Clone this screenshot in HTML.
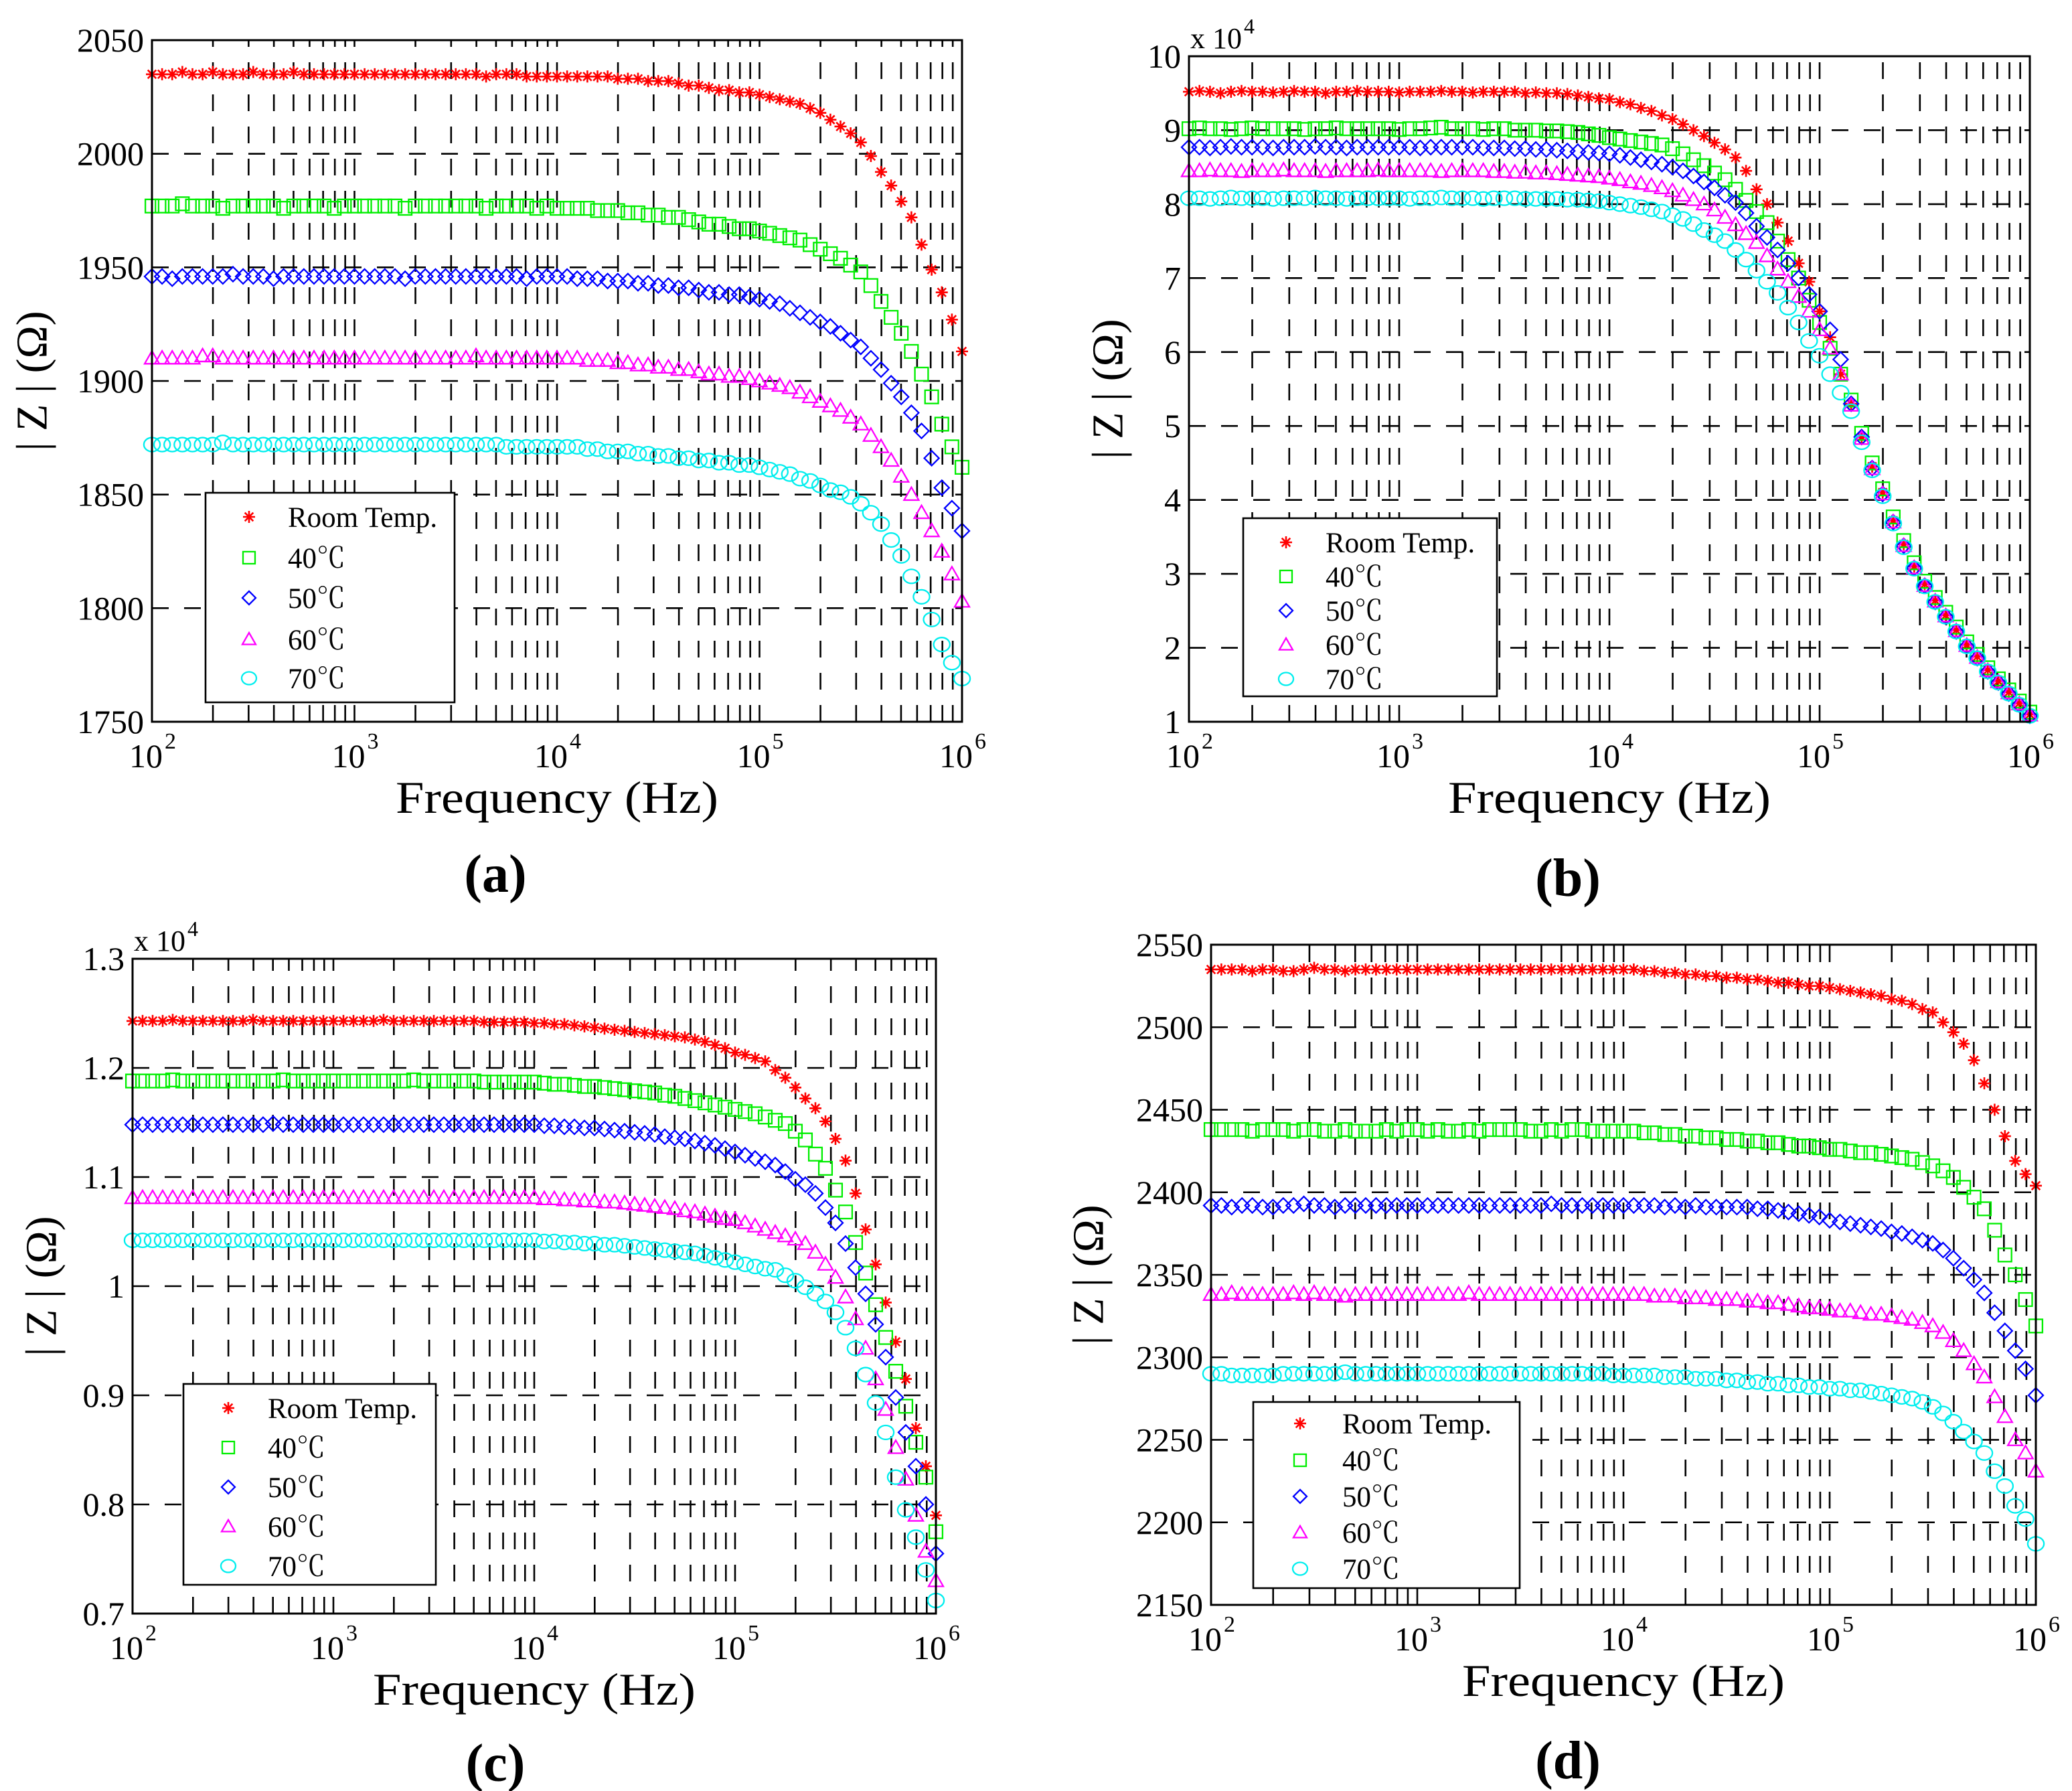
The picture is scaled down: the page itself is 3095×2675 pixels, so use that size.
<!DOCTYPE html>
<html><head><meta charset="utf-8"><title>|Z| vs frequency at several temperatures</title>
<style>
html,body{margin:0;padding:0;background:#fff;}
svg{display:block;}
text{font-family:"Liberation Serif","Noto Serif CJK SC","Noto Sans CJK SC",serif;fill:#000;}
</style></head>
<body>
<svg id="fig" width="3095" height="2675" viewBox="0 0 3095 2675" xmlns="http://www.w3.org/2000/svg">
<rect x="0" y="0" width="3095" height="2675" fill="#fff"/>
</svg>
<script>
// shared log10(frequency) categories
const EXPS=[2,2.05,2.1,2.15,2.2,2.25,2.3,2.35,2.4,2.45,2.5,2.55,2.6,2.65,2.7,2.75,2.8,2.85,2.9,2.95,3,3.05,3.1,3.15,3.2,3.25,3.3,3.35,3.4,3.45,3.5,3.55,3.6,3.65,3.7,3.75,3.8,3.85,3.9,3.95,4,4.05,4.1,4.15,4.2,4.25,4.3,4.35,4.4,4.45,4.5,4.55,4.6,4.65,4.7,4.75,4.8,4.85,4.9,4.95,5,5.05,5.1,5.15,5.2,5.25,5.3,5.35,5.4,5.45,5.5,5.55,5.6,5.65,5.7,5.75,5.8,5.85,5.9,5.95,6];
const XTICK_EXPS=[2,3,4,5,6];
const LEGEND_LABELS=['Room Temp.','40\u2103','50\u2103','60\u2103','70\u2103'];

// panel (a)
const A_YTICKS=[1750,1800,1850,1900,1950,2000,2050];
const A_RT=[2035,2035,2035,2036,2035,2035,2036,2035,2035,2035,2036,2035,2035,2035,2036,2035,2035,2035,2035,2035,2035,2035,2035,2035,2035,2035,2035,2035,2035,2035,2035,2035,2035,2034,2035,2035,2035,2034,2034,2034,2034,
2034,2034,2034,2034,2034,2033,2033,2033,2032,2032,2032,2031,2030,2030,2029,2028,2028,2027,2027,2026,2025,2024,2023,2022,2020,2018,2015,2012,2009,2005,1999,1992,1986,1979,1972,1960,1949,1939,1927,1913];
const A_40=[1977,1977,1977,1978,1977,1977,1977,1976,1977,1977,1977,1977,1977,1976,1977,1977,1977,1977,1976,1977,1977,1977,1977,1977,1977,1976,1977,1977,1977,1977,1977,1977,1977,1976,1977,1977,1977,1977,1976,1977,1976,
1976,1976,1976,1975,1975,1975,1974,1974,1973,1973,1972,1972,1971,1970,1969,1969,1968,1967,1967,1966,1965,1964,1963,1962,1960,1958,1956,1954,1951,1948,1942,1935,1928,1921,1913,1903,1893,1881,1871,1862];
const A_50=[1946,1946,1945,1946,1946,1946,1946,1946,1947,1946,1946,1946,1945,1946,1946,1946,1946,1946,1946,1946,1946,1946,1946,1946,1946,1945,1946,1946,1946,1946,1946,1946,1946,1946,1946,1946,1946,1945,1946,1946,1946,
1946,1945,1945,1945,1944,1944,1944,1943,1943,1942,1942,1941,1941,1940,1939,1939,1938,1938,1937,1936,1935,1934,1932,1930,1928,1926,1924,1921,1918,1915,1910,1905,1899,1893,1886,1878,1866,1853,1844,1834];
const A_60=[1910,1910,1910,1910,1910,1911,1911,1910,1910,1910,1910,1910,1910,1910,1910,1910,1910,1910,1910,1910,1910,1910,1910,1910,1910,1910,1910,1910,1910,1910,1910,1910,1911,1910,1910,1910,1910,1910,1910,1910,1910,
1910,1910,1909,1909,1909,1908,1908,1907,1907,1906,1906,1905,1905,1904,1903,1903,1902,1902,1901,1900,1899,1898,1897,1895,1893,1891,1889,1887,1884,1881,1876,1871,1865,1858,1850,1842,1834,1825,1815,1803];
const A_70=[1872,1872,1872,1872,1872,1872,1872,1873,1872,1872,1872,1872,1872,1872,1872,1872,1872,1872,1872,1872,1872,1872,1872,1872,1872,1872,1872,1872,1872,1872,1872,1872,1872,1872,1872,1871,1871,1871,1871,1871,1871,
1871,1871,1870,1870,1869,1869,1869,1868,1868,1867,1867,1866,1866,1865,1865,1864,1864,1863,1863,1862,1861,1860,1859,1857,1856,1854,1852,1851,1849,1846,1842,1837,1830,1823,1814,1805,1795,1784,1776,1769];

// panel (b)  (values in units of 10^4 ohm)
const B_YTICKS=[1,2,3,4,5,6,7,8,9,10];
const B_RT=[9.52,9.53,9.52,9.5,9.52,9.53,9.52,9.52,9.51,9.52,9.53,9.52,9.52,9.5,9.52,9.52,9.53,9.52,9.52,9.52,9.51,9.52,9.52,9.52,9.53,9.52,9.52,9.51,9.52,9.52,9.52,9.52,9.5,9.51,9.5,9.5,9.49,
9.47,9.45,9.43,9.42,9.38,9.35,9.3,9.26,9.2,9.15,9.08,9.0,8.92,8.83,8.74,8.63,8.45,8.2,8.0,7.75,7.5,7.2,6.95,6.55,6.2,5.7,
5.3,4.85,4.45,4.1,3.72,3.4,3.1,2.86,2.64,2.44,2.24,2.04,1.88,1.7,1.55,1.4,1.25,1.1];
const B_40=[9.02,9.03,9.02,9.02,9.01,9.02,9.03,9.02,9.02,9.02,9.02,9.01,9.02,9.02,9.03,9.02,9.02,9.02,9.02,9.02,9.01,9.02,9.02,9.03,9.04,9.02,9.02,9.02,9.01,9.02,9.02,9.0,9.0,9.0,8.99,8.99,8.98,
8.97,8.95,8.93,8.9,8.88,8.86,8.84,8.82,8.8,8.75,8.68,8.6,8.52,8.42,8.33,8.2,8.05,7.9,7.75,7.5,7.25,7.0,6.7,6.4,6.05,5.7,
5.35,4.9,4.5,4.15,3.77,3.45,3.15,2.9,2.68,2.48,2.28,2.08,1.91,1.73,1.58,1.43,1.28,1.13];
const B_50=[8.77,8.77,8.76,8.77,8.78,8.77,8.77,8.77,8.76,8.77,8.77,8.77,8.78,8.77,8.77,8.76,8.77,8.77,8.77,8.77,8.77,8.77,8.76,8.77,8.77,8.77,8.77,8.77,8.76,8.76,8.76,8.75,8.75,8.74,8.74,8.73,8.72,
8.71,8.7,8.69,8.68,8.66,8.63,8.6,8.57,8.54,8.5,8.45,8.38,8.3,8.22,8.12,8.02,7.88,7.7,7.55,7.38,7.2,7.0,6.78,6.55,6.3,5.9,
5.3,4.85,4.43,4.08,3.7,3.38,3.08,2.84,2.62,2.42,2.22,2.02,1.86,1.68,1.53,1.38,1.23,1.08];
const B_60=[8.45,8.45,8.46,8.45,8.45,8.44,8.45,8.45,8.45,8.46,8.45,8.45,8.45,8.44,8.45,8.45,8.45,8.45,8.46,8.45,8.45,8.45,8.45,8.45,8.44,8.45,8.45,8.45,8.45,8.44,8.44,8.43,8.43,8.42,8.42,8.41,8.4,
8.39,8.38,8.37,8.35,8.33,8.3,8.28,8.25,8.22,8.18,8.12,8.06,8.0,7.92,7.82,7.72,7.6,7.48,7.3,7.12,6.95,6.75,6.55,6.3,6.05,5.7,
5.28,4.83,4.42,4.08,3.7,3.38,3.08,2.84,2.63,2.43,2.23,2.03,1.87,1.69,1.54,1.39,1.24,1.09];
const B_70=[8.08,8.08,8.07,8.08,8.09,8.08,8.08,8.08,8.07,8.08,8.08,8.08,8.09,8.08,8.08,8.07,8.08,8.08,8.08,8.08,8.08,8.07,8.08,8.08,8.09,8.08,8.08,8.08,8.07,8.08,8.08,8.08,8.07,8.07,8.07,8.07,8.06,
8.06,8.05,8.04,8.02,8.0,7.98,7.96,7.93,7.9,7.85,7.8,7.73,7.65,7.58,7.5,7.38,7.25,7.1,6.95,6.8,6.6,6.4,6.15,5.95,5.7,5.45,
5.2,4.78,4.4,4.05,3.68,3.36,3.07,2.83,2.62,2.42,2.22,2.02,1.86,1.68,1.53,1.38,1.23,1.08];

// panel (c)  (values in units of 10^4 ohm)
const C_YTICKS=[0.7,0.8,0.9,1,1.1,1.2,1.3];
const C_YLABELS=['0.7','0.8','0.9','1','1.1','1.2','1.3'];
const C_RT=[1.243,1.243,1.243,1.243,1.244,1.243,1.243,1.243,1.243,1.243,1.243,1.243,1.244,1.243,1.243,1.243,1.243,1.243,1.243,1.243,1.243,1.243,1.243,1.243,1.243,1.244,1.243,1.243,1.243,1.243,1.243,1.243,1.243,1.243,1.243,1.242,1.242,1.242,1.242,1.242,1.241,
1.241,1.240,1.240,1.239,1.238,1.237,1.236,1.235,1.234,1.233,1.232,1.231,1.230,1.229,1.228,1.226,1.224,1.221,1.218,
1.214,1.212,1.209,1.206,1.198,1.191,1.182,1.172,1.163,1.151,1.135,1.115,1.085,1.052,1.020,0.985,0.949,0.915,0.870,0.835,0.790];
const C_40=[1.188,1.188,1.188,1.188,1.189,1.188,1.188,1.188,1.188,1.188,1.188,1.188,1.188,1.188,1.188,1.189,1.188,1.188,1.188,1.188,1.188,1.188,1.188,1.188,1.188,1.188,1.188,1.188,1.189,1.188,1.188,1.188,1.188,1.188,1.188,1.187,1.187,1.187,1.187,1.187,1.187,
1.186,1.185,1.185,1.184,1.183,1.183,1.182,1.181,1.180,1.179,1.178,1.177,1.175,1.174,1.172,1.170,1.168,1.166,1.164,
1.162,1.160,1.158,1.155,1.152,1.149,1.142,1.134,1.121,1.108,1.088,1.068,1.040,1.012,0.983,0.953,0.922,0.890,0.857,0.825,0.775];
const C_50=[1.148,1.148,1.148,1.148,1.148,1.148,1.148,1.148,1.148,1.148,1.148,1.148,1.148,1.148,1.149,1.148,1.148,1.148,1.148,1.148,1.148,1.148,1.148,1.148,1.148,1.148,1.148,1.148,1.148,1.148,1.148,1.148,1.148,1.148,1.148,1.148,1.148,1.148,1.148,1.148,1.148,
1.147,1.147,1.146,1.146,1.145,1.145,1.144,1.143,1.142,1.141,1.140,1.139,1.137,1.136,1.135,1.133,1.131,1.129,1.126,
1.123,1.120,1.117,1.114,1.111,1.105,1.098,1.093,1.085,1.072,1.058,1.039,1.017,0.993,0.965,0.935,0.898,0.866,0.835,0.800,0.755];
const C_60=[1.081,1.081,1.081,1.081,1.081,1.081,1.081,1.081,1.081,1.081,1.081,1.081,1.081,1.081,1.081,1.081,1.081,1.081,1.081,1.081,1.081,1.081,1.081,1.081,1.081,1.081,1.081,1.081,1.081,1.081,1.081,1.081,1.081,1.081,1.081,1.081,1.081,1.081,1.081,1.081,1.081,
1.080,1.080,1.079,1.079,1.078,1.078,1.077,1.077,1.076,1.075,1.074,1.073,1.072,1.071,1.069,1.068,1.066,1.064,1.062,
1.061,1.058,1.055,1.052,1.049,1.046,1.043,1.039,1.031,1.020,1.008,0.990,0.970,0.943,0.915,0.887,0.852,0.823,0.790,0.757,0.730];
const C_70=[1.042,1.042,1.042,1.042,1.042,1.042,1.042,1.042,1.042,1.042,1.042,1.042,1.042,1.042,1.042,1.042,1.042,1.042,1.042,1.042,1.042,1.042,1.042,1.042,1.042,1.042,1.042,1.042,1.042,1.042,1.042,1.042,1.042,1.042,1.042,1.042,1.042,1.042,1.042,1.042,1.042,
1.041,1.041,1.040,1.040,1.039,1.039,1.038,1.038,1.037,1.036,1.035,1.034,1.033,1.032,1.031,1.030,1.028,1.026,1.024,
1.022,1.020,1.018,1.016,1.015,1.010,1.005,0.999,0.993,0.986,0.976,0.962,0.943,0.919,0.893,0.866,0.825,0.795,0.770,0.740,0.712];

// panel (d)
const D_YTICKS=[2150,2200,2250,2300,2350,2400,2450,2500,2550];
const D_RT=[2535,2535,2535,2535,2534,2535,2535,2534,2534,2535,2536,2535,2535,2534,2535,2535,2535,2535,2535,2535,2535,2535,2535,2535,2535,2535,2535,2535,2535,2535,2535,2535,2535,2535,2535,2535,2535,2535,2535,2535,2535,
2535,2534,2534,2533,2533,2532,2532,2531,2531,2530,2530,2529,2529,2528,2527,2527,2526,2525,2525,2524,2523,2522,2521,2520,2519,2517,2516,2514,2511,2509,2503,2497,2490,2480,2466,2450,2434,2419,2411,2404];
const D_40=[2438,2438,2438,2438,2437,2438,2438,2438,2437,2438,2438,2437,2437,2438,2437,2437,2437,2438,2437,2438,2438,2437,2438,2437,2437,2438,2437,2438,2438,2438,2438,2437,2437,2438,2437,2438,2438,2437,2437,2437,2437,
2437,2436,2436,2435,2435,2434,2434,2433,2433,2432,2432,2431,2431,2430,2430,2429,2428,2428,2427,2426,2426,2425,2424,2424,2423,2422,2421,2420,2418,2416,2413,2409,2403,2397,2390,2377,2362,2350,2335,2319];
const D_50=[2392,2392,2391,2392,2392,2391,2391,2392,2392,2393,2392,2392,2391,2392,2392,2392,2392,2392,2392,2392,2392,2392,2392,2392,2392,2392,2392,2392,2392,2392,2392,2392,2392,2393,2392,2392,2392,2392,2392,2392,2392,
2392,2392,2392,2391,2392,2391,2392,2391,2391,2391,2391,2391,2390,2390,2389,2388,2387,2386,2385,2383,2382,2381,2380,2379,2378,2376,2375,2373,2371,2369,2365,2360,2354,2347,2339,2327,2316,2304,2293,2277];
const D_60=[2338,2338,2339,2338,2338,2338,2338,2338,2339,2338,2339,2338,2338,2337,2338,2338,2338,2338,2338,2338,2338,2338,2338,2338,2338,2339,2338,2338,2338,2338,2338,2338,2338,2338,2338,2338,2338,2338,2338,2338,2338,
2338,2338,2337,2337,2337,2336,2336,2336,2335,2335,2335,2334,2334,2333,2333,2332,2331,2330,2330,2329,2328,2328,2327,2326,2326,2325,2324,2323,2321,2319,2315,2310,2304,2296,2288,2276,2264,2250,2242,2231];
const D_70=[2290,2290,2289,2289,2289,2289,2289,2290,2290,2290,2290,2290,2290,2291,2290,2290,2290,2290,2290,2290,2290,2290,2290,2290,2290,2290,2290,2290,2290,2290,2290,2290,2290,2290,2290,2290,2290,2290,2290,2289,2289,
2289,2289,2289,2288,2288,2288,2287,2287,2287,2286,2286,2285,2285,2284,2284,2283,2283,2282,2282,2281,2281,2280,2280,2279,2278,2277,2276,2275,2273,2270,2266,2261,2255,2249,2242,2231,2222,2210,2202,2187];

const COLORS=['#ff0000','#00ee00','#0000ff','#ff00ff','#00eeee'];
const MARKERS=['star','square','diamond','triangle','circle'];
const SERIES_NAMES=['room-temp','40c','50c','60c','70c'];

const PANELS=[
 {id:'a',x0:227,x1:1437,y0:60,y1:1078,ymin:1750,ymax:2050,ticks:A_YTICKS,labels:null,series:[A_RT,A_40,A_50,A_60,A_70],mult:false,
  leg:{x:307,y:736,w:372,h:313,mx:372,tx:430,rows:[772,833,893,955,1013]},ylx:48,tag:[740,1332]},
 {id:'b',x0:1776,x1:3032,y0:84,y1:1078,ymin:1,ymax:10,ticks:B_YTICKS,labels:null,series:[B_RT,B_40,B_50,B_60,B_70],mult:true,
  leg:{x:1857,y:774,w:379,h:266,mx:1921,tx:1980,rows:[810,861,912,963,1014]},ylx:1655,tag:[2342,1338]},
 {id:'c',x0:198,x1:1398,y0:1432,y1:2410,ymin:0.7,ymax:1.3,ticks:C_YTICKS,labels:C_YLABELS,series:[C_RT,C_40,C_50,C_60,C_70],mult:true,
  leg:{x:274,y:2067,w:377,h:300,mx:341,tx:400,rows:[2103,2162,2221,2280,2339]},ylx:62,tag:[740,2660]},
 {id:'d',x0:1809,x1:3041,y0:1411,y1:2397,ymin:2150,ymax:2550,ticks:D_YTICKS,labels:null,series:[D_RT,D_40,D_50,D_60,D_70],mult:false,
  leg:{x:1872,y:2094,w:398,h:278,mx:1942,tx:2005,rows:[2126,2181,2235,2289,2343]},ylx:1626,tag:[2342,2656]}
];

const NS='http://www.w3.org/2000/svg';
const svg=document.getElementById('fig');
function el(tag,attrs,parent){const e=document.createElementNS(NS,tag);for(const k in attrs)e.setAttribute(k,attrs[k]);(parent||svg).appendChild(e);return e;}

function marker(g,type,cx,cy,color,s){
  let m;
  if(type==='star'){
    m=el('path',{d:`M${cx-s} ${cy}H${cx+s}M${cx} ${cy-s}V${cy+s}M${cx-s*0.7} ${cy-s*0.7}L${cx+s*0.7} ${cy+s*0.7}M${cx-s*0.7} ${cy+s*0.7}L${cx+s*0.7} ${cy-s*0.7}`,stroke:color,'stroke-width':2.6,fill:'none'},g);
  }else if(type==='square'){
    m=el('rect',{x:cx-s*0.9,y:cy-s*0.9,width:s*1.8,height:s*1.8,stroke:color,'stroke-width':2.3,fill:'none'},g);
  }else if(type==='diamond'){
    m=el('path',{d:`M${cx} ${cy-s}L${cx+s} ${cy}L${cx} ${cy+s}L${cx-s} ${cy}Z`,stroke:color,'stroke-width':2.3,fill:'none'},g);
  }else if(type==='triangle'){
    m=el('path',{d:`M${cx} ${cy-s}L${cx+s} ${cy+s*0.75}L${cx-s} ${cy+s*0.75}Z`,stroke:color,'stroke-width':2.3,fill:'none'},g);
  }else{
    m=el('ellipse',{cx:cx,cy:cy,rx:s*1.1,ry:s*0.95,stroke:color,'stroke-width':2.3,fill:'none'},g);
  }
  return m;
}

function drawPanel(p){
  const g=el('g',{});
  
  
  const xs=e=>p.x0+(e-2)/4*(p.x1-p.x0);
  const ys=v=>p.y1-(v-p.ymin)/(p.ymax-p.ymin)*(p.y1-p.y0);
  const grid=el('g',{stroke:'#000','stroke-width':2.6,'stroke-dasharray':'25,23',fill:'none'},g);
  
  
  for(let k=2;k<6;k++){for(let m=1;m<10;m++){const x=xs(k+Math.log10(m));
    if(m===1 && k===2) continue;
    el('line',{x1:x,y1:p.y1,x2:x,y2:p.y0},grid);}}
  p.ticks.forEach((t,i)=>{if(i===0||i===p.ticks.length-1)return;const y=ys(t);el('line',{x1:p.x0,y1:y,x2:p.x1,y2:y},grid);});
  p.series.forEach((arr,si)=>{
    const sg=el('g',{},g);
    
    
    arr.forEach((v,i)=>{const mk=marker(sg,MARKERS[si],xs(EXPS[i]),ys(v),COLORS[si],si===0?9:11);
      
      });
  });
  const box=el('rect',{x:p.x0,y:p.y0,width:p.x1-p.x0,height:p.y1-p.y0,fill:'none',stroke:'#000','stroke-width':3},g);
  
  
  p.ticks.forEach((t,i)=>{const tx=el('text',{x:p.x0-12,y:ys(t)+17,'text-anchor':'end','font-size':50},g);
    tx.textContent=p.labels?p.labels[i]:String(t);
    
    });
  XTICK_EXPS.forEach(e=>{const x=xs(e);const tx=el('text',{x:x+16,y:p.y1+68,'text-anchor':'end','font-size':50},g);
    tx.textContent='10';
    
    
    const sp=el('text',{x:x+19,y:p.y1+40,'font-size':34},g);
    sp.textContent=String(e);
    
    });
  if(p.mult){const mt=el('text',{x:p.x0+2,y:p.y0-12,'font-size':44},g);
    mt.textContent='x 10';
    
    
    const me=el('text',{x:p.x0+82,y:p.y0-34,'font-size':32},g);
    me.textContent='4';
    
    }
  const xl=el('text',{x:(p.x0+p.x1)/2,y:p.y1+136,'text-anchor':'middle','font-size':68,textLength:482,lengthAdjust:'spacingAndGlyphs'},g);
  xl.textContent='Frequency (Hz)';
  
  
  const yc=(p.y0+p.y1)/2;
  const yl=el('text',{x:p.ylx,y:yc,'text-anchor':'middle','dominant-baseline':'central','font-size':66,transform:`rotate(-90 ${p.ylx} ${yc})`},g);
  yl.textContent='| Z | (\u03A9)';
  
  
  const tg=el('text',{x:p.tag[0],y:p.tag[1],'text-anchor':'middle','font-size':80,'font-weight':'bold'},g);
  tg.textContent='('+p.id+')';
  
  
  const L=p.leg;
  const lg=el('g',{},g);
  
  
  el('rect',{x:L.x,y:L.y,width:L.w,height:L.h,fill:'#fff',stroke:'#000','stroke-width':2.6},lg);
  LEGEND_LABELS.forEach((lab,i)=>{
    const eg=el('g',{},lg);
    
    
    marker(eg,MARKERS[i],L.mx,L.rows[i],COLORS[i],i===0?9:10);
    const t=el('text',{x:L.tx,y:L.rows[i]+15,'font-size':43},eg);
    t.textContent=lab;
  });
}
PANELS.forEach(drawPanel);
</script>
</body></html>
